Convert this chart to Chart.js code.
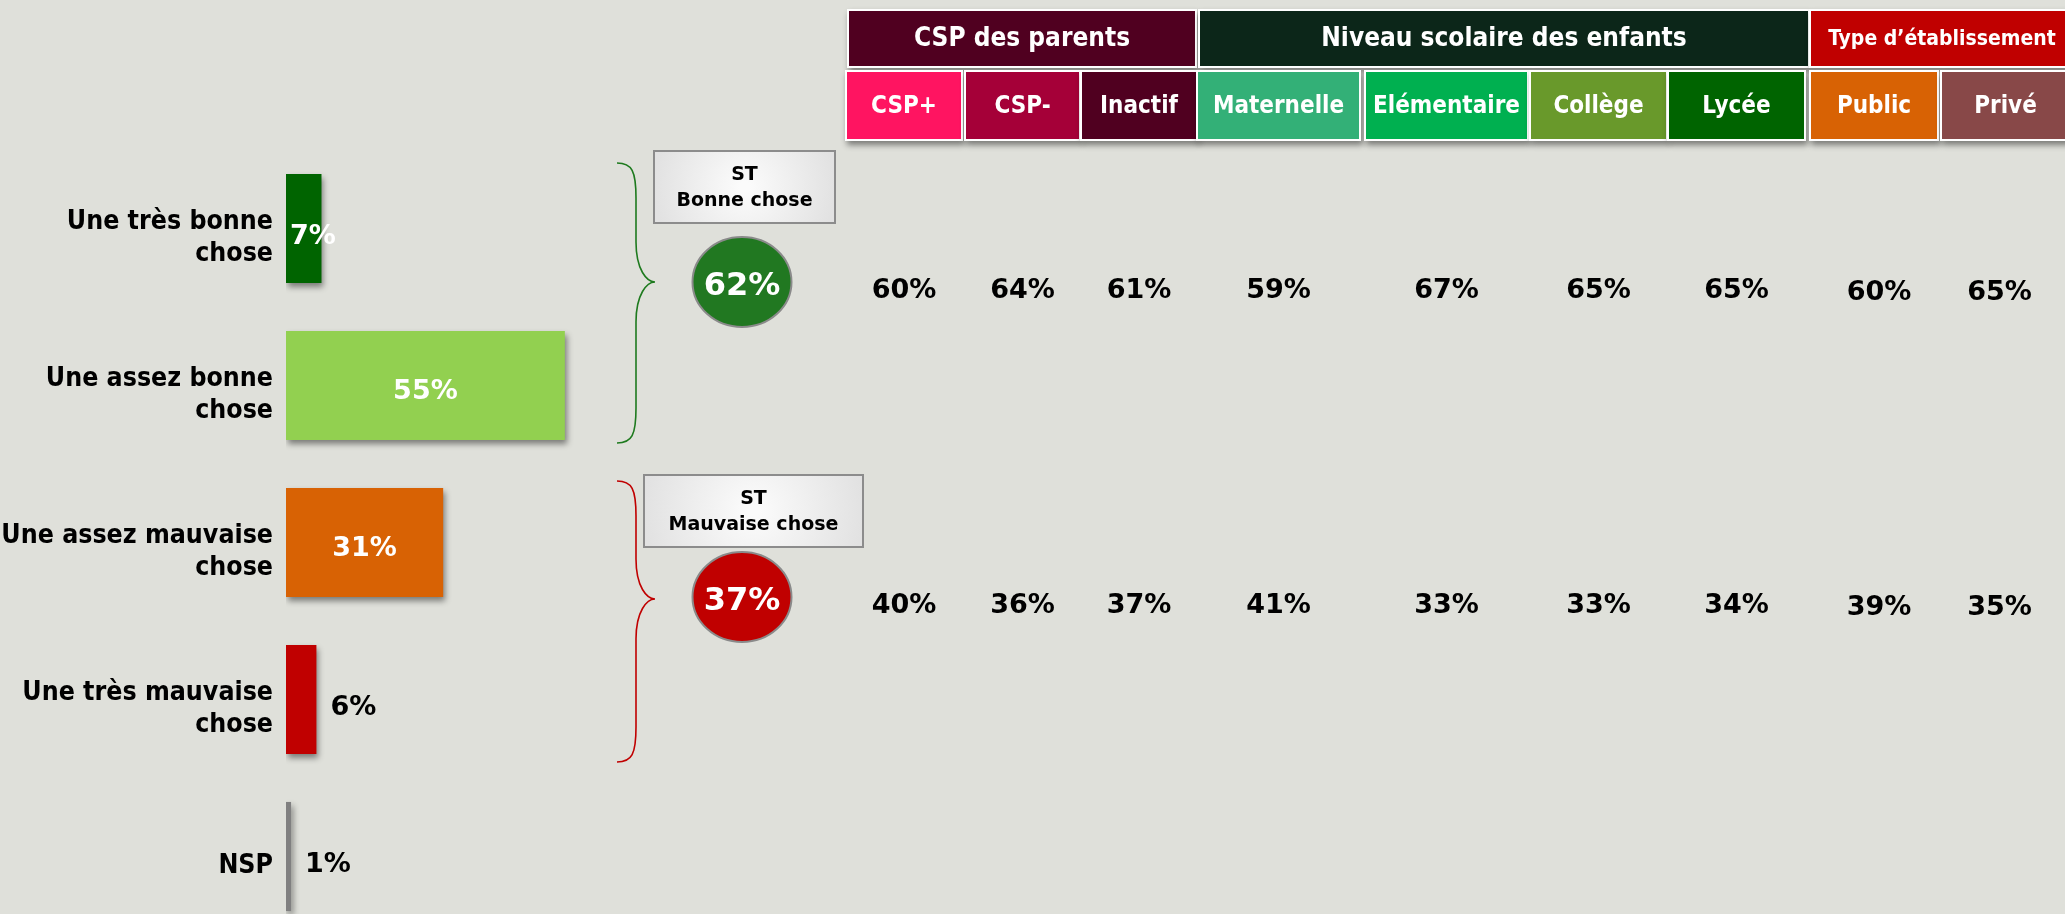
<!DOCTYPE html>
<html>
<head>
<meta charset="utf-8">
<script src="https://cdn.jsdelivr.net/npm/chart.js@4.4.0/dist/chart.umd.min.js"></script>
<style>
    html, body { margin: 0; padding: 0; background: #DFE0DA; overflow: hidden; }
    #wrap { position: relative; width: 2065px; height: 914px; overflow: hidden; }
    #chart { position: absolute; left: 0; top: 0; }
</style>
</head>
<body>
<div id="wrap"><canvas id="chart" width="2065" height="982"></canvas></div>
<script>
// --- data ---
const categories = [['Une très bonne', 'chose'], ['Une assez bonne', 'chose'], ['Une assez mauvaise', 'chose'], ['Une très mauvaise', 'chose'], 'NSP'];
const values = [7, 55, 31, 6, 1];

const groups = ['CSP des parents', 'Niveau scolaire des enfants', 'Type d’établissement'];
const subgroups = ['CSP+', 'CSP-', 'Inactif', 'Maternelle', 'Elémentaire', 'Collège', 'Lycée', 'Public', 'Privé'];
const totalLabels = [['ST', 'Bonne chose'], ['ST', 'Mauvaise chose']];
const totals = [62, 37];
const goodBySub = [60, 64, 61, 59, 67, 65, 65, 60, 65];
const badBySub = [40, 36, 37, 41, 33, 33, 34, 39, 35];

// --- styles / layout ---
const barColors = ['#006400', '#92D050', '#D86204', '#C00000', '#808080'];
const labelColors = ['#fff', '#fff', '#fff', '#000', '#000'];
const COND = '"DejaVu Sans Condensed", "DejaVu Sans", sans-serif';
const SANS = '"DejaVu Sans", Verdana, sans-serif';

const groupBoxes = [
    {x: 849, w: 346, color: '#500020', size: 26},
    {x: 1200, w: 608, color: '#0C2619', size: 26},
    {x: 1811, w: 262, color: '#C00000', size: 21}
];
const subBoxes = [
    {x: 847, w: 114, color: '#FF1461'},
    {x: 966, w: 113, color: '#A50038'},
    {x: 1082, w: 114, color: '#500020'},
    {x: 1198, w: 161, color: '#33B077'},
    {x: 1366, w: 161, color: '#00B050'},
    {x: 1531, w: 135, color: '#69992B'},
    {x: 1669, w: 135, color: '#006400'},
    {x: 1811, w: 126, color: '#D86204'},
    {x: 1942, w: 127, color: '#884848'}
];
const blocks = [
    {color: '#217821', brace: '#1E7A1E', top: 163, tip: 282, bottom: 443, box: {x: 654, y: 151, w: 181, h: 72}, row: 298},
    {color: '#C00000', brace: '#C00000', top: 481, tip: 599, bottom: 762, box: {x: 644, y: 475, w: 219, h: 72}, row: 613}
];
const rows = [goodBySub, badBySub];

function shadowOn(ctx) {
    ctx.shadowColor = 'rgba(0,0,0,0.45)';
    ctx.shadowBlur = 6;
    ctx.shadowOffsetX = 2;
    ctx.shadowOffsetY = 4;
}

function headerBox(ctx, b, y, h, text, size) {
    ctx.save();
    shadowOn(ctx);
    ctx.fillStyle = '#fff';
    ctx.fillRect(b.x - 2, y - 2, b.w + 4, h + 4);
    ctx.restore();
    ctx.fillStyle = b.color;
    ctx.fillRect(b.x, y, b.w, h);
    ctx.fillStyle = '#fff';
    ctx.font = 'bold ' + size + 'px ' + COND;
    ctx.textAlign = 'center';
    ctx.textBaseline = 'middle';
    ctx.fillText(text, b.x + b.w / 2, y + h / 2 + 1);
}

function brace(ctx, x0, x1, top, tip, bottom, color) {
    const xs = x0 + (x1 - x0) * 0.5;
    ctx.beginPath();
    ctx.moveTo(x0, top);
    ctx.bezierCurveTo(xs - 4, top, xs, top + 8, xs, top + 35);
    ctx.lineTo(xs, tip - 40);
    ctx.bezierCurveTo(xs, tip - 12, x1 - 8, tip, x1, tip);
    ctx.bezierCurveTo(x1 - 8, tip, xs, tip + 12, xs, tip + 40);
    ctx.lineTo(xs, bottom - 35);
    ctx.bezierCurveTo(xs, bottom - 8, xs - 4, bottom, x0, bottom);
    ctx.strokeStyle = color;
    ctx.lineWidth = 1.6;
    ctx.stroke();
}

const barShadow = {
    id: 'barShadow',
    beforeDatasetsDraw(chart) {
        chart.ctx.save();
        shadowOn(chart.ctx);
    },
    afterDatasetsDraw(chart) {
        chart.ctx.restore();
    }
};

const barLabels = {
    id: 'barLabels',
    afterDatasetsDraw(chart) {
        const ctx = chart.ctx;
        const meta = chart.getDatasetMeta(0);
        ctx.save();
        ctx.font = 'bold 27px ' + SANS;
        ctx.textBaseline = 'alphabetic';
        meta.data.forEach((bar, i) => {
            const text = values[i] + '%';
            const tw = ctx.measureText(text).width;
            const len = bar.x - bar.base;
            const yb = bar.y + 13;
            ctx.fillStyle = labelColors[i];
            if (labelColors[i] === '#000') {
                ctx.textAlign = 'left';
                ctx.fillText(text, bar.x + 14, yb + 2);
            } else if (tw > len) {
                ctx.textAlign = 'left';
                ctx.fillText(text, bar.base + 4, yb + 2);
            } else {
                ctx.textAlign = 'center';
                ctx.fillText(text, (bar.x + bar.base) / 2, yb);
            }
        });
        ctx.restore();
    }
};

const sidePanel = {
    id: 'sidePanel',
    afterDraw(chart) {
        const ctx = chart.ctx;
        ctx.save();

        // group header row
        groups.forEach((g, i) => headerBox(ctx, groupBoxes[i], 11, 55, g, groupBoxes[i].size));
        // sub header row
        subgroups.forEach((s, i) => headerBox(ctx, subBoxes[i], 72, 67, s, 24));

        blocks.forEach((b, k) => {
            brace(ctx, 617, 655, b.top, b.tip, b.bottom, b.brace);

            // ST label box
            const bx = b.box;
            const grad = ctx.createRadialGradient(bx.x + bx.w / 2, bx.y + bx.h / 2, 5, bx.x + bx.w / 2, bx.y + bx.h / 2, bx.w / 2);
            grad.addColorStop(0, '#FBFBFB');
            grad.addColorStop(1, '#E2E2E2');
            ctx.fillStyle = grad;
            ctx.fillRect(bx.x, bx.y, bx.w, bx.h);
            ctx.strokeStyle = '#8C8C8C';
            ctx.lineWidth = 2;
            ctx.strokeRect(bx.x, bx.y, bx.w, bx.h);
            ctx.fillStyle = '#000';
            ctx.font = 'bold 19px ' + SANS;
            ctx.textAlign = 'center';
            ctx.textBaseline = 'middle';
            ctx.fillText(totalLabels[k][0], bx.x + bx.w / 2, bx.y + 24);
            ctx.fillText(totalLabels[k][1], bx.x + bx.w / 2, bx.y + 50);

            // total circle
            ctx.beginPath();
            ctx.ellipse(742, b.row - 16, 49.5, 45, 0, 0, Math.PI * 2);
            ctx.fillStyle = b.color;
            ctx.fill();
            ctx.strokeStyle = '#8A8A8A';
            ctx.lineWidth = 2;
            ctx.stroke();
            ctx.fillStyle = '#fff';
            ctx.font = 'bold 32px ' + SANS;
            ctx.textBaseline = 'alphabetic';
            ctx.fillText(totals[k] + '%', 742, b.row - 3);

            // values per subgroup
            ctx.fillStyle = '#000';
            ctx.font = 'bold 27px ' + SANS;
            rows[k].forEach((v, i) => {
                const sb = subBoxes[i];
                const dx = i === 7 ? 5 : (i === 8 ? -6 : 0);
                ctx.fillText(v + '%', sb.x + sb.w / 2 + dx, b.row + (i >= 7 ? 2 : 0));
            });
        });
        ctx.restore();
    }
};

new Chart(document.getElementById('chart'), {
    type: 'bar',
    data: {
        labels: categories,
        datasets: [{
            data: values,
            backgroundColor: barColors,
            borderWidth: 0,
            barPercentage: 0.695,
            categoryPercentage: 1
        }]
    },
    options: {
        indexAxis: 'y',
        responsive: false,
        animation: false,
        layout: {padding: {top: 150, bottom: 47, left: 0, right: 1272}},
        plugins: {legend: {display: false}, tooltip: {enabled: false}},
        scales: {
            x: {display: false, min: 0, max: 100},
            y: {
                grid: {display: false, drawTicks: false},
                border: {display: false},
                afterFit: (scale) => { scale.width = 286; },
                ticks: {
                    color: '#000',
                    padding: 13,
                    labelOffset: 10,
                    font: {family: COND, size: 26.5, weight: 'bold', lineHeight: 1.21}
                }
            }
        }
    },
    plugins: [barShadow, barLabels, sidePanel]
});
</script>
</body>
</html>
